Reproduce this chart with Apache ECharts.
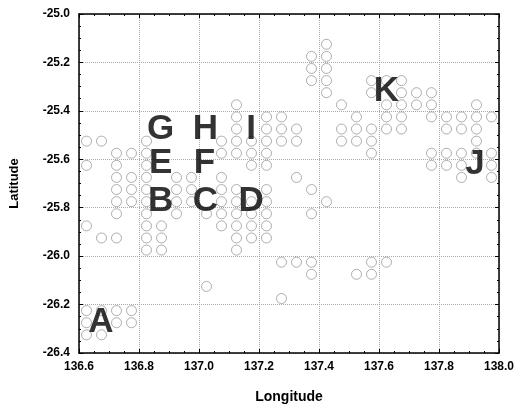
<!DOCTYPE html>
<html>
<head>
<meta charset="utf-8">
<script src="https://cdn.jsdelivr.net/npm/echarts@6/dist/echarts.min.js"></script>
<style>
html,body{margin:0;padding:0;background:#fff;}
#chart{width:517px;height:410px;}
</style>
</head>
<body>
<div id="chart"></div>
<script>
// Axis ranges / ticks
const lonRange = [136.6, 138.0];
const latRange = [-26.4, -25.0];
const tickStep = 0.2;

// Grid-cell sites, grouped by latitude row
const rowLats = [
  -25.125, -25.175, -25.225, -25.275, -25.325, -25.375, -25.425, -25.475,
  -25.525, -25.575, -25.625, -25.675, -25.725, -25.775, -25.825, -25.875,
  -25.925, -25.975, -26.025, -26.075, -26.125, -26.175, -26.225, -26.275, -26.325
];
const rowLons = [
  [137.425],
  [137.375, 137.425],
  [137.375, 137.425],
  [137.375, 137.425, 137.575, 137.625, 137.675],
  [137.425, 137.575, 137.675, 137.725, 137.775],
  [137.125, 137.475, 137.625, 137.675, 137.725, 137.775, 137.925],
  [137.125, 137.225, 137.275, 137.525, 137.625, 137.675, 137.775, 137.825, 137.875, 137.925, 137.975],
  [137.125, 137.225, 137.275, 137.325, 137.475, 137.525, 137.575, 137.625, 137.675, 137.825, 137.875, 137.925],
  [136.625, 136.675, 136.825, 137.075, 137.125, 137.175, 137.225, 137.275, 137.325, 137.475, 137.525, 137.575, 137.925],
  [136.725, 136.775, 136.825, 137.075, 137.125, 137.175, 137.225, 137.575, 137.775, 137.825, 137.875, 137.925, 137.975],
  [136.625, 136.725, 136.825, 137.175, 137.225, 137.775, 137.825, 137.875, 137.975],
  [136.725, 136.775, 136.825, 136.925, 136.975, 137.075, 137.325, 137.875, 137.975],
  [136.725, 136.775, 136.825, 136.925, 136.975, 137.075, 137.125, 137.225, 137.375],
  [136.725, 136.775, 136.825, 136.925, 136.975, 137.075, 137.125, 137.175, 137.225, 137.425],
  [136.725, 136.825, 136.925, 137.025, 137.075, 137.125, 137.175, 137.225, 137.375],
  [136.625, 136.825, 136.875, 137.075, 137.125, 137.175, 137.225],
  [136.675, 136.725, 136.825, 136.875, 137.125, 137.175, 137.225],
  [136.825, 136.875, 137.125],
  [137.275, 137.325, 137.375, 137.575, 137.625],
  [137.375, 137.525, 137.575],
  [137.025],
  [137.275],
  [136.625, 136.675, 136.725, 136.775],
  [136.625, 136.725, 136.775],
  [136.625, 136.675]
];

// Region labels
const labelNames = ['A', 'B', 'C', 'D', 'E', 'F', 'G', 'H', 'I', 'J', 'K'];
const labelLons  = [136.673, 136.872, 137.021, 137.174, 136.872, 137.018, 136.872, 137.021, 137.174, 137.920, 137.625];
const labelLats  = [-26.272, -25.772, -25.772, -25.772, -25.615, -25.615, -25.475, -25.475, -25.475, -25.620, -25.318];

const siteData = [];
rowLats.forEach((lat, r) => rowLons[r].forEach(lon => siteData.push([lon, lat])));
const labelData = labelNames.map((n, k) => [labelLons[k], labelLats[k], n]);

const FONT = 'Liberation Sans, Arial, sans-serif';
const chart = echarts.init(document.getElementById('chart'), null, {renderer: 'canvas'});

const frameAxis = {
  axisLine: {show: true, lineStyle: {color: '#000', width: 1.5}},
  axisTick: {show: true, inside: true, length: 4, lineStyle: {color: '#000'}},
  minorTick: {show: true, splitNumber: 4, length: 2, lineStyle: {color: '#000'}},
  splitLine: {show: false},
  axisLabel: {show: false}
};

chart.setOption({
  animation: false,
  backgroundColor: '#fff',
  grid: {left: 78, right: 17, top: 14, bottom: 57, containLabel: false},
  xAxis: [
    Object.assign({}, frameAxis, {
      type: 'value', position: 'bottom', min: lonRange[0], max: lonRange[1], interval: tickStep,
      name: 'Longitude', nameLocation: 'middle', nameGap: 37,
      nameTextStyle: {fontFamily: FONT, fontWeight: 'bold', fontSize: 14, color: '#000'},
      axisLabel: {show: true, margin: 8, fontFamily: FONT, fontWeight: 'bold', fontSize: 12, color: '#000',
        formatter: v => v.toFixed(1)},
      splitLine: {show: true, lineStyle: {color: '#aaa', type: 'dotted', width: 1}}
    }),
    Object.assign({}, frameAxis, {
      type: 'value', position: 'top', min: lonRange[0], max: lonRange[1], interval: tickStep
    })
  ],
  yAxis: [
    Object.assign({}, frameAxis, {
      type: 'value', position: 'left', min: latRange[0], max: latRange[1], interval: tickStep,
      name: 'Latitude', nameLocation: 'middle', nameGap: 58, nameRotate: 90,
      nameTextStyle: {fontFamily: FONT, fontWeight: 'bold', fontSize: 13, color: '#000'},
      axisLabel: {show: true, margin: 9, fontFamily: FONT, fontWeight: 'bold', fontSize: 12, color: '#000',
        formatter: v => v.toFixed(1)},
      splitLine: {show: true, lineStyle: {color: '#aaa', type: 'dotted', width: 1}}
    }),
    Object.assign({}, frameAxis, {
      type: 'value', position: 'right', min: latRange[0], max: latRange[1], interval: tickStep
    })
  ],
  series: [
    {
      type: 'scatter',
      data: siteData,
      symbol: 'circle',
      symbolSize: 10,
      itemStyle: {color: 'rgba(255,255,255,0)', borderColor: '#9a9a9a', borderWidth: 1},
      z: 2
    },
    {
      type: 'scatter',
      data: labelData,
      symbolSize: 1,
      itemStyle: {color: 'rgba(0,0,0,0)'},
      label: {
        show: true, position: 'inside', formatter: p => p.data[2],
        fontFamily: FONT, fontSize: 35, fontWeight: 'bold', color: '#000'
      },
      z: 5
    }
  ]
});
</script>
</body>
</html>
